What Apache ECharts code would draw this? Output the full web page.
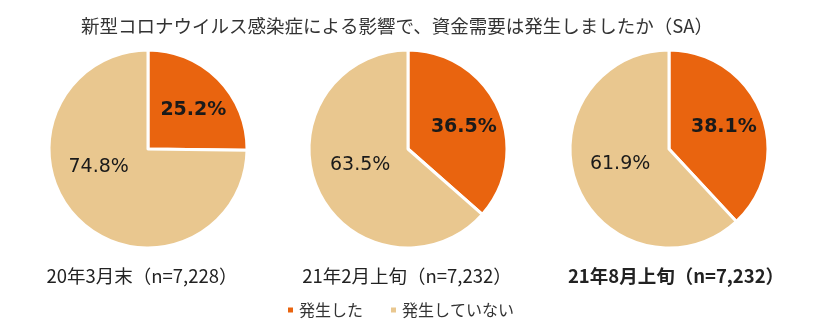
<!DOCTYPE html>
<html>
<head>
<meta charset="utf-8">
<script src="https://cdn.jsdelivr.net/npm/echarts@6/dist/echarts.min.js"></script>
<style>html,body{margin:0;padding:0;background:#fff;}#c{width:820px;height:329px;}</style>
</head>
<body>
<div id="c"></div>
<script>
const chartTitle = '新型コロナウイルス感染症による影響で、資金需要は発生しましたか（SA）';
const categories = ['発生した', '発生していない'];
const periods = ['20年3月末（n=7,228）', '21年2月上旬（n=7,232）', '21年8月上旬（n=7,232）'];
const occurred = [25.2, 36.5, 38.1];
const notOccurred = [74.8, 63.5, 61.9];

const colors = ['#E9640F', '#E9C78F'];
const centersX = [148, 408, 669];
const labelXs = [137, 402, 671];
const labelOffsets = [
  [[8, -2], [-12, -19]],
  [[8, 0], [0, -6]],
  [[6, -3], [0, -4]]
];

const chart = echarts.init(document.getElementById('c'), null, {renderer: 'canvas'});
const series = periods.map((p, i) => ({
  type: 'pie',
  name: p,
  center: [centersX[i], 149],
  radius: 99,
  startAngle: 90,
  clockwise: true,
  animation: false,
  silent: true,
  itemStyle: {borderColor: '#fff', borderWidth: 3},
  label: {
    show: true,
    position: 'inside',
    formatter: d => d.value.toFixed(1) + '%',
    fontFamily: 'DejaVu Sans',
    fontSize: 19,
    color: '#1a1a1a'
  },
  labelLine: {show: false},
  data: [
    {name: categories[0], value: occurred[i], itemStyle: {color: colors[0]},
     label: {fontWeight: 'bold', offset: labelOffsets[i][0]}},
    {name: categories[1], value: notOccurred[i], itemStyle: {color: colors[1]},
     label: {fontWeight: 'normal', offset: labelOffsets[i][1]}}
  ]
}));

const titles = [{
  text: chartTitle,
  left: 392, top: 12, textAlign: 'center',
  textStyle: {fontFamily: 'Noto Sans CJK JP', fontSize: 18.5, fontWeight: 'normal', color: '#333'}
}].concat(periods.map((p, i) => ({
  text: p,
  left: labelXs[i], top: 262, textAlign: 'center',
  textStyle: {fontFamily: 'Noto Sans CJK JP', fontSize: 18.5,
    fontWeight: i === 2 ? 'bold' : 'normal', color: '#222'}
})));

chart.setOption({
  backgroundColor: '#fff',
  title: titles,
  color: colors,
  legend: {
    data: categories,
    left: 281, top: 297,
    itemWidth: 7, itemHeight: 7, itemGap: 26,
    icon: 'rect',
    textStyle: {fontFamily: 'Noto Sans CJK JP', fontSize: 16, color: '#333'}
  },
  series: series
});
</script>
</body>
</html>
